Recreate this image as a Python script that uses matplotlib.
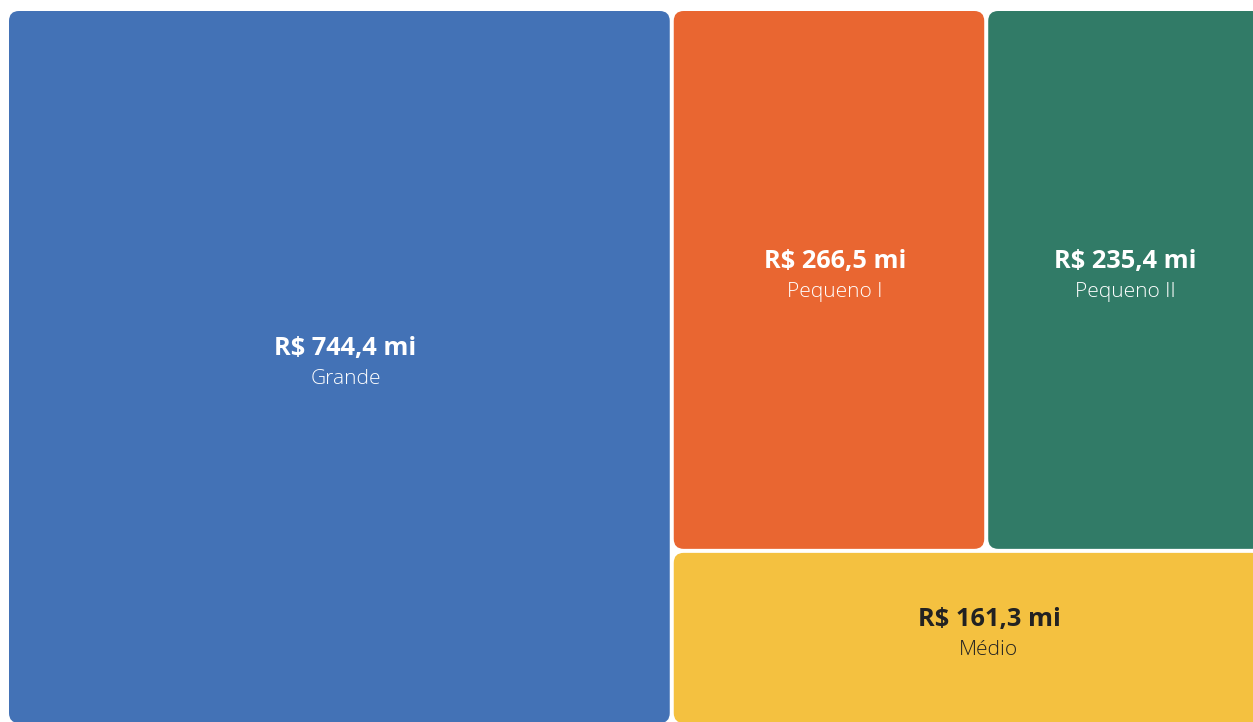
import matplotlib
matplotlib.use("Agg")
import matplotlib.pyplot as plt
from matplotlib.patches import FancyBboxPatch

# valores em R$ milhões
labels = ["Grande", "Pequeno I", "Pequeno II", "Médio"]
values = [744.4, 266.5, 235.4, 161.3]
colors = ["#4372B6", "#E96631", "#317B67", "#F4C140"]
text_colors = ["white", "white", "white", "#222222"]
value_texts = ["R$ 744,4 mi", "R$ 266,5 mi", "R$ 235,4 mi", "R$ 161,3 mi"]
label_dx = [6, 6, 0, 21]  # deslocamento horizontal dos rótulos

# área do treemap em pixels (parte direita e de baixo fica cortada)
X0, Y0, X1, Y1 = 7, 9, 1264, 725
gap = 2
W = X1 - X0
H = Y1 - Y0

fig = plt.figure(figsize=(12.53, 7.22), dpi=100)
ax = fig.add_axes([0, 0, 1, 1])
ax.set_xlim(0, 1253)
ax.set_ylim(722, 0)
ax.axis("off")

total = sum(values)
# Grande ocupa uma coluna inteira
wg = W * values[0] / total
rest = total - values[0]
top = values[1] + values[2]
ht = H * top / rest
wr = W - wg
w1 = wr * values[1] / top
rects = [
    (X0, Y0, wg, H),
    (X0 + wg, Y0, w1, ht),
    (X0 + wg + w1, Y0, wr - w1, ht),
    (X0 + wg, Y0 + ht, wr, H - ht),
]

for (x, y, w, h), c, tc, vt, lb, dx in zip(rects, colors, text_colors,
                                            value_texts, labels, label_dx):
    p = FancyBboxPatch((x + gap, y + gap), w - 2 * gap, h - 2 * gap,
                       boxstyle="round,pad=0,rounding_size=10",
                       facecolor=c, edgecolor="none")
    ax.add_patch(p)
    cx = x + w / 2 + dx
    cy = y + h / 2
    ax.text(cx, cy - 18, vt, color=tc, fontsize=18.3, fontweight="bold",
            family="Open Sans", ha="center", va="center")
    ax.text(cx, cy + 12, lb, color=tc, fontsize=15, fontweight="light",
            family="Open Sans", ha="center", va="center")

fig.savefig("out.png", dpi=100)
